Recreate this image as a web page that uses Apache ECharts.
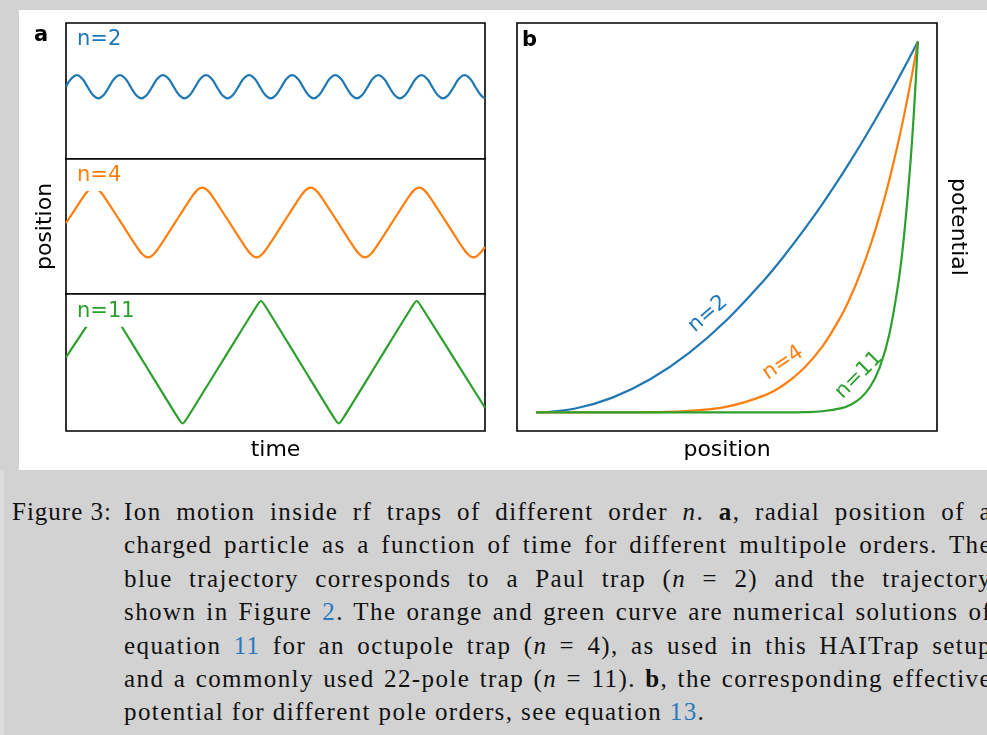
<!DOCTYPE html>
<html>
<head>
<meta charset="utf-8">
<script src="https://cdn.jsdelivr.net/npm/echarts@6/dist/echarts.min.js"></script>
<style>
html,body{margin:0;padding:0;width:987px;height:735px;overflow:hidden;background:#d2d2d2;}
#panel{position:absolute;left:19px;top:10px;width:968px;height:460px;background:#fff;}
#chart{position:absolute;left:0;top:0;width:987px;height:470px;}
#strip{position:absolute;left:0;top:470px;width:4px;height:265px;background:#dcdcdc;}
#caption{position:absolute;left:0;top:495px;width:987px;font-family:"Liberation Serif",serif;font-size:25px;line-height:33.4px;color:#111;letter-spacing:1.4px;}
#figlabel{position:absolute;left:12px;top:0;white-space:nowrap;letter-spacing:1px;}
.ln{position:relative;margin-left:124px;width:868px;text-align:justify;text-align-last:justify;white-space:normal;}
.ln.last{text-align:left;text-align-last:left;}
.lnk{color:#2a78bd;}
</style>
</head>
<body>
<div id="panel"></div>
<div id="strip"></div>
<div id="chart"></div>
<div id="caption">
  <div id="figlabel">Figure 3:</div>
  <div class="ln">Ion motion inside rf traps of different order <i>n</i>. <b>a</b>, radial position of a</div>
  <div class="ln">charged particle as a function of time for different multipole orders. The</div>
  <div class="ln">blue trajectory corresponds to a Paul trap (<i>n</i> = 2) and the trajectory</div>
  <div class="ln">shown in Figure <span class="lnk">2</span>. The orange and green curve are numerical solutions of</div>
  <div class="ln">equation <span class="lnk">11</span> for an octupole trap (<i>n</i> = 4), as used in this HAITrap setup</div>
  <div class="ln">and a commonly used 22-pole trap (<i>n</i> = 11). <b>b</b>, the corresponding effective</div>
  <div class="ln last">potential for different pole orders, see equation <span class="lnk">13</span>.</div>
</div>
<script>
// ---- panel a: position vs time ----
const timeMax = 38.9;
const blueT = [0,0.5,1,1.5,2,2.5,3,3.5,4,4.5,5,5.5,6,6.5,7,7.5,8,8.5,9,9.5,10,10.5,11,11.5,12,12.5,13,13.5,14,14.5,15,15.5,16,16.5,17,17.5,18,18.5,19,19.5,20,20.5,21,21.5,22,22.5,23,23.5,24,24.5,25,25.5,26,26.5,27,27.5,28,28.5,29,29.5,30,30.5,31,31.5,32,32.5,33,33.5,34,34.5,35,35.5,36,36.5,37,37.5,38,38.5,38.9];
const blueY = [
0.531,0.591,0.616,0.591,0.531,0.471,0.446,0.471,
0.531,0.591,0.616,0.591,0.531,0.471,0.446,0.471,
0.531,0.591,0.616,0.591,0.531,0.471,0.446,0.471,
0.531,0.591,0.616,0.591,0.531,0.471,0.446,0.471,
0.531,0.591,0.616,0.591,0.531,0.471,0.446,0.471,
0.531,0.591,0.616,0.591,0.531,0.471,0.446,0.471,
0.531,0.591,0.616,0.591,0.531,0.471,0.446,0.471,
0.531,0.591,0.616,0.591,0.531,0.471,0.446,0.471,
0.531,0.591,0.616,0.591,0.531,0.471,0.446,0.471,
0.531,0.591,0.616,0.591,0.531,0.471,0.447];
const orangeT = [0,
1.10,1.75,2.02,2.28,2.58,2.88,3.14,3.41,4.06, 5.10,
6.14,6.79,7.06,7.32,7.62,7.92,8.18,8.45,9.10, 10.14,
11.17,11.82,12.09,12.35,12.65,12.95,13.21,13.48,14.13, 15.17,
16.21,16.86,17.13,17.39,17.69,17.99,18.25,18.52,19.17, 20.21,
21.24,21.89,22.16,22.42,22.72,23.02,23.28,23.55,24.20, 25.24,
26.28,26.93,27.20,27.46,27.76,28.06,28.32,28.59,29.24, 30.28,
31.31,31.96,32.23,32.49,32.79,33.09,33.35,33.62,34.27, 35.31,
36.35,37.00,37.27,37.53,37.83,38.13,38.39,38.66, 38.9];
const orangeY = [0.525,
0.659,0.736,0.762,0.780,0.788,0.780,0.762,0.736,0.659, 0.530,
0.401,0.324,0.298,0.280,0.272,0.280,0.298,0.324,0.401, 0.530,
0.659,0.736,0.762,0.780,0.788,0.780,0.762,0.736,0.659, 0.530,
0.401,0.324,0.298,0.280,0.272,0.280,0.298,0.324,0.401, 0.530,
0.659,0.736,0.762,0.780,0.788,0.780,0.762,0.736,0.659, 0.530,
0.401,0.324,0.298,0.280,0.272,0.280,0.298,0.324,0.401, 0.530,
0.659,0.736,0.762,0.780,0.788,0.780,0.762,0.736,0.659, 0.530,
0.401,0.324,0.298,0.280,0.272,0.280,0.298,0.324, 0.348];
const greenT = [0,3.24,3.59,3.94,7.21,10.48,10.83,11.18,14.46,17.75,18.10,18.45,21.71,24.97,25.32,25.67,28.94,32.21,32.56,32.91,38.9];
const greenY = [0.538,0.918,0.949,0.918,0.502,0.086,0.056,0.086,0.502,0.918,0.949,0.918,0.502,0.086,0.056,0.086,0.502,0.918,0.949,0.918,0.170];

// ---- panel b: effective potential vs position ----
const radius = [0,0.1,0.2,0.3,0.4,0.5,0.6,0.65,0.7,0.75,0.8,0.825,0.85,0.875,0.9,0.925,0.95,0.965,0.98,0.99,1];
const potN2  = [0,0.01,0.04,0.09,0.16,0.25,0.36,0.4225,0.49,0.5625,0.64,0.6806,0.7225,0.7656,0.81,0.8556,0.9025,0.9312,0.9604,0.9801,1];
const potN4  = [0,0,0.0001,0.0007,0.0041,0.0156,0.0467,0.0754,0.1176,0.178,0.2621,0.3153,0.3771,0.4488,0.5314,0.6264,0.7351,0.8075,0.8858,0.9415,1];
const potN11 = [0,0,0,0,0,0,0,0.0002,0.0008,0.0032,0.0115,0.0213,0.0388,0.0692,0.1216,0.2103,0.3585,0.4904,0.6676,0.8179,1];

const labelsA = ['n=2','n=4','n=11'];
const labelsB = ['n=2','n=4','n=11'];
const C = {blue:'#1f77b4', orange:'#ff7f0e', green:'#2ca02c'};
const FONT = '"DejaVu Sans"';

const zip = (xs, ys) => xs.map((x, i) => [x, ys[i]]);

const chart = echarts.init(document.getElementById('chart'), null, {renderer:'canvas'});

const gridBase = {show:true, borderColor:'#000', borderWidth:1.6, backgroundColor:'#fff', containLabel:false, outerBoundsMode:'none'};
const hiddenAxis = {axisLine:{show:false}, axisTick:{show:false}, axisLabel:{show:false}, splitLine:{show:false}};
const nameStyle = {fontFamily:FONT, fontSize:22, color:'#000'};

function lineSeries(data, color, xi, smooth) {
  return {type:'line', data, xAxisIndex:xi, yAxisIndex:xi, showSymbol:false, symbol:'none',
    smooth: smooth, lineStyle:{color, width:2.2}, itemStyle:{color},
    emphasis:{disabled:true}, silent:true, z:2};
}

function txt(x, y, text, color, size, bold, extra) {
  return {type:'text', x, y, z:50, silent:true,
    style:Object.assign({text, x:0, y:0, fill:color, font:(bold?'bold ':'') + size + 'px ' + FONT,
      align:'left', verticalAlign:'middle', textAlign:'left', textVerticalAlign:'middle'}, extra || {})};
}
function rtxt(x, y, text, color, deg) {
  return {type:'text', x, y, z:50, silent:true, rotation: deg * Math.PI / 180,
    style:{text, x:0, y:0, fill:color, font:'21px ' + FONT,
      align:'center', verticalAlign:'middle', textAlign:'center', textVerticalAlign:'middle'}};
}
const bbox = {backgroundColor:'#fff', padding:[3,4,6,3]};

const option = {
  backgroundColor:'transparent',
  animation:false,
  grid:[
    Object.assign({left:66, top:23, width:419, height:136}, gridBase),
    Object.assign({left:66, top:159, width:419, height:135}, gridBase),
    Object.assign({left:66, top:294, width:419, height:137}, gridBase),
    Object.assign({left:517, top:23, width:420, height:408}, gridBase)
  ],
  xAxis:[
    Object.assign({type:'value', gridIndex:0, min:0, max:timeMax}, hiddenAxis),
    Object.assign({type:'value', gridIndex:1, min:0, max:timeMax}, hiddenAxis),
    Object.assign({type:'value', gridIndex:2, min:0, max:timeMax, name:'time', nameLocation:'middle', nameGap:8, nameTextStyle:nameStyle}, hiddenAxis),
    Object.assign({type:'value', gridIndex:3, min:-0.05, max:1.05, name:'position', nameLocation:'middle', nameGap:8, nameTextStyle:nameStyle}, hiddenAxis)
  ],
  yAxis:[
    Object.assign({type:'value', gridIndex:0, min:0, max:1}, hiddenAxis),
    Object.assign({type:'value', gridIndex:1, min:0, max:1, name:'position', nameLocation:'middle', nameRotate:90, nameGap:10, nameTextStyle:nameStyle}, hiddenAxis),
    Object.assign({type:'value', gridIndex:2, min:0, max:1}, hiddenAxis),
    Object.assign({type:'value', gridIndex:3, min:-0.05, max:1.05, position:'right', name:'potential', nameLocation:'middle', nameRotate:-90, nameGap:10, nameTextStyle:nameStyle}, hiddenAxis)
  ],
  series:[
    lineSeries(zip(blueT, blueY), C.blue, 0, 0.5),
    lineSeries(zip(orangeT, orangeY), C.orange, 1, 0.3),
    lineSeries(zip(greenT, greenY), C.green, 2, 0.25),
    lineSeries(zip(radius, potN2), C.blue, 3, 0.4),
    lineSeries(zip(radius, potN4), C.orange, 3, 0.4),
    lineSeries(zip(radius, potN11), C.green, 3, 0.4)
  ],
  graphic:{elements:[
    txt(34, 36, 'a', '#000', 21, true),
    txt(522, 41, 'b', '#000', 21, true),
    txt(74, 39.4, labelsA[0], C.blue, 21, false, bbox),
    txt(74, 176, labelsA[1], C.orange, 21, false, bbox),
    txt(74, 311.7, labelsA[2], C.green, 21, false, bbox),
    rtxt(708, 314, labelsB[0], C.blue, 41),
    rtxt(783, 363, labelsB[1], C.orange, 34),
    rtxt(859, 375, labelsB[2], C.green, 45)
  ]}
};
chart.setOption(option);
</script>
</body>
</html>
